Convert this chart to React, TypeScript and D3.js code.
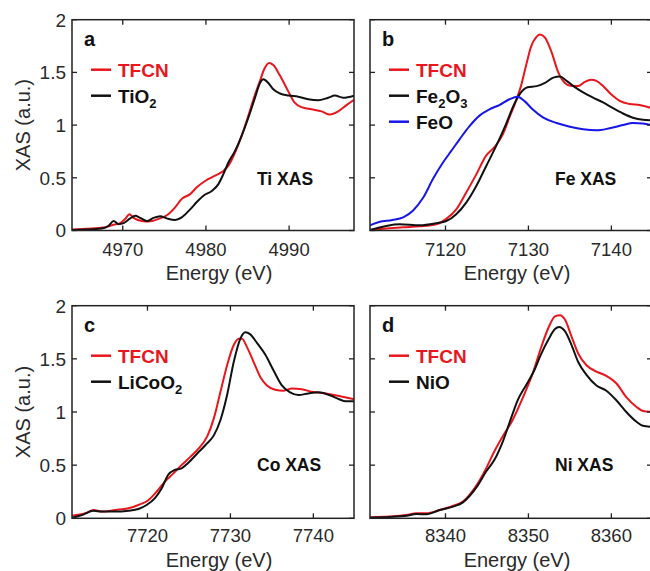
import React from "react";
import * as d3 from "d3";

type Pt = [number, number];

// ---- Data (energy eV, XAS a.u.) ----
const tiTFCN: Pt[] = [[4963.9,0.01],[4967.9,0.03],[4968.7,0.05],[4969.7,0.07],[4970.3,0.11],[4970.8,0.155],[4971.3,0.12],[4972.3,0.09],[4973.1,0.085],[4974.3,0.11],[4975.3,0.145],[4976.3,0.22],[4977.1,0.3],[4978.1,0.345],[4978.9,0.41],[4979.9,0.47],[4981.1,0.52],[4982.1,0.565],[4982.7,0.615],[4983.5,0.74],[4984.3,0.9],[4985.1,1.09],[4985.9,1.29],[4986.5,1.42],[4987.0,1.53],[4987.6,1.59],[4988.1,1.57],[4988.9,1.47],[4989.9,1.32],[4990.7,1.21],[4991.5,1.17],[4992.7,1.15],[4993.9,1.13],[4994.9,1.10],[4995.9,1.13],[4996.9,1.19],[4997.8,1.24]];
const tiTiO2: Pt[] = [[4963.9,0.005],[4967.5,0.02],[4968.3,0.045],[4968.9,0.09],[4969.5,0.06],[4970.1,0.07],[4970.9,0.115],[4971.5,0.14],[4972.1,0.12],[4972.9,0.09],[4973.7,0.12],[4974.5,0.135],[4975.3,0.115],[4976.3,0.1],[4977.1,0.125],[4978.1,0.2],[4978.9,0.27],[4979.7,0.33],[4980.7,0.375],[4981.5,0.44],[4982.1,0.535],[4982.7,0.645],[4983.5,0.755],[4984.3,0.9],[4985.1,1.07],[4985.9,1.26],[4986.5,1.4],[4986.9,1.435],[4987.5,1.4],[4988.1,1.34],[4988.9,1.30],[4989.9,1.28],[4991.1,1.27],[4992.3,1.245],[4993.5,1.235],[4994.7,1.26],[4995.5,1.28],[4996.5,1.26],[4997.8,1.28]];

const feTFCN: Pt[] = [[7110.9,0.005],[7114.9,0.03],[7116.9,0.04],[7118.9,0.06],[7120.1,0.11],[7121.3,0.2],[7122.5,0.36],[7123.7,0.53],[7124.9,0.71],[7125.9,0.79],[7126.9,0.91],[7127.7,1.07],[7128.5,1.23],[7129.1,1.37],[7129.7,1.56],[7130.3,1.74],[7131.0,1.84],[7131.4,1.86],[7132.0,1.83],[7132.8,1.69],[7133.6,1.50],[7134.4,1.40],[7135.2,1.37],[7136.0,1.37],[7136.8,1.41],[7137.6,1.43],[7138.2,1.42],[7139.0,1.37],[7140.0,1.29],[7141.0,1.23],[7142.2,1.20],[7143.4,1.19],[7144.9,1.16]];
const feFe2O3: Pt[] = [[7110.9,0.005],[7114.5,0.06],[7116.9,0.05],[7118.9,0.07],[7120.1,0.09],[7121.3,0.155],[7122.5,0.265],[7123.7,0.42],[7124.9,0.61],[7126.1,0.8],[7127.3,1.01],[7128.3,1.2],[7129.1,1.31],[7129.9,1.36],[7131.0,1.37],[7132.0,1.4],[7133.0,1.45],[7133.8,1.46],[7134.6,1.42],[7135.6,1.36],[7136.6,1.31],[7137.8,1.26],[7139.0,1.215],[7140.2,1.16],[7141.4,1.11],[7142.6,1.07],[7143.8,1.05],[7144.9,1.045]];
const feFeO: Pt[] = [[7110.9,0.05],[7112.0,0.08],[7113.6,0.10],[7114.9,0.125],[7116.1,0.19],[7117.3,0.31],[7118.5,0.49],[7119.7,0.645],[7120.7,0.755],[7121.7,0.865],[7122.9,0.99],[7124.1,1.09],[7125.3,1.15],[7126.5,1.19],[7127.7,1.245],[7128.7,1.27],[7129.5,1.23],[7130.5,1.15],[7131.8,1.07],[7133.4,1.02],[7135.0,0.985],[7136.6,0.96],[7138.2,0.95],[7139.8,0.97],[7141.4,1.0],[7142.6,1.02],[7143.8,1.015],[7144.9,1.0]];

const coTFCN: Pt[] = [[7710.9,0.025],[7712.5,0.047],[7713.5,0.078],[7714.5,0.063],[7716.1,0.078],[7717.7,0.094],[7718.9,0.125],[7720.1,0.17],[7721.1,0.25],[7722.1,0.345],[7723.1,0.42],[7724.1,0.5],[7725.2,0.58],[7726.2,0.66],[7727.2,0.77],[7728.0,0.94],[7728.8,1.19],[7729.6,1.44],[7730.4,1.63],[7731.0,1.69],[7731.4,1.69],[7732.0,1.61],[7732.8,1.47],[7733.6,1.33],[7734.4,1.25],[7735.4,1.21],[7736.4,1.20],[7737.4,1.22],[7738.6,1.215],[7739.8,1.19],[7741.5,1.175],[7743.1,1.15],[7744.9,1.12]];
const coLiCoO2: Pt[] = [[7710.9,0.006],[7712.1,0.03],[7713.5,0.07],[7714.5,0.063],[7716.1,0.063],[7717.7,0.072],[7718.9,0.088],[7719.9,0.125],[7720.9,0.19],[7721.7,0.28],[7722.5,0.41],[7723.3,0.455],[7724.1,0.47],[7724.9,0.52],[7726.0,0.61],[7727.0,0.69],[7728.0,0.78],[7728.8,0.925],[7729.6,1.16],[7730.4,1.47],[7731.2,1.69],[7731.8,1.75],[7732.4,1.73],[7733.2,1.65],[7734.2,1.54],[7735.2,1.39],[7736.2,1.25],[7737.2,1.185],[7738.2,1.16],[7739.4,1.175],[7740.6,1.185],[7741.9,1.16],[7743.1,1.12],[7743.9,1.1],[7744.9,1.1]];

const niTFCN: Pt[] = [[8330.9,0.01],[8333.2,0.016],[8335.3,0.03],[8336.5,0.047],[8337.7,0.047],[8339.3,0.078],[8340.9,0.116],[8342.1,0.157],[8342.9,0.22],[8343.9,0.33],[8344.9,0.47],[8345.9,0.63],[8346.9,0.77],[8348.1,0.925],[8349.3,1.13],[8350.5,1.36],[8351.5,1.6],[8352.4,1.79],[8353.2,1.9],[8353.8,1.91],[8354.4,1.87],[8355.2,1.71],[8356.0,1.55],[8357.0,1.44],[8358.2,1.38],[8359.4,1.34],[8360.6,1.27],[8361.8,1.14],[8363.0,1.05],[8363.8,1.01],[8364.9,1.0]];
const niNiO: Pt[] = [[8330.9,0.006],[8333.2,0.013],[8335.3,0.025],[8336.5,0.04],[8337.7,0.038],[8339.3,0.078],[8340.9,0.11],[8342.1,0.15],[8342.9,0.21],[8343.9,0.31],[8344.9,0.44],[8345.9,0.55],[8346.9,0.72],[8347.9,0.94],[8348.7,1.11],[8349.7,1.25],[8350.7,1.39],[8351.5,1.54],[8352.4,1.68],[8353.2,1.78],[8353.7,1.8],[8354.4,1.76],[8355.2,1.63],[8356.0,1.47],[8357.0,1.35],[8358.2,1.25],[8359.4,1.2],[8360.6,1.11],[8361.8,1.0],[8363.0,0.91],[8363.8,0.87],[8364.9,0.86]];

const yTicks = [0, 0.5, 1, 1.5, 2];
const yTickLabels = ["0", "0.5", "1", "1.5", "2"];
const xTicksA = [4970, 4980, 4990];
const xTicksB = [7120, 7130, 7140];
const xTicksC = [7720, 7730, 7740];
const xTicksD = [8340, 8350, 8360];
const domainA: [number, number] = [4963.9, 4997.8];
const domainB: [number, number] = [7110.9, 7144.9];
const domainC: [number, number] = [7710.9, 7744.9];
const domainD: [number, number] = [8330.9, 8364.9];

const RED = "#e8171d";
const BLACK = "#111111";
const BLUE = "#1616e8";

type Series = { data: Pt[]; color: string; label: React.ReactNode };

type PanelProps = {
  id: string;
  x0: number; y0: number; w: number; h: number;
  domain: [number, number];
  xTicks: number[];
  series: Series[];
  letter: string;
  note: string;
  showY: boolean;
  tickOff: number;
  titleOff: number;
};

const FONT = "'Liberation Sans', Arial, Helvetica, sans-serif";

function Panel(p: PanelProps) {
  const x = d3.scaleLinear().domain(p.domain).range([p.x0, p.x0 + p.w]);
  const y = d3.scaleLinear().domain([0, 2]).range([p.y0 + p.h, p.y0]);
  const line = d3.line<Pt>().x(d => x(d[0])).y(d => y(d[1])).curve(d3.curveMonotoneX);
  const tl = 5;
  const bottom = p.y0 + p.h;
  const right = p.x0 + p.w;
  return (
    <g>
      <defs>
        <clipPath id={"clip-" + p.id}>
          <rect x={p.x0} y={p.y0} width={p.w} height={p.h} />
        </clipPath>
      </defs>
      <g clipPath={`url(#clip-${p.id})`}>
        {p.series.map((s, i) => (
          <path key={i} d={line(s.data) || ""} fill="none" stroke={s.color} strokeWidth={2} strokeLinejoin="round" />
        ))}
      </g>
      {p.xTicks.map(t => (
        <g key={"xt" + t}>
          <line x1={x(t)} x2={x(t)} y1={bottom} y2={bottom - tl} stroke="#222" strokeWidth={1.3} />
          <line x1={x(t)} x2={x(t)} y1={p.y0} y2={p.y0 + tl} stroke="#222" strokeWidth={1.3} />
          <text x={x(t)} y={bottom + p.tickOff} textAnchor="middle" fontSize={18.5} fill="#2a2a2a" fontFamily={FONT}>{t}</text>
        </g>
      ))}
      {yTicks.map((t, i) => (
        <g key={"yt" + t}>
          <line x1={p.x0} x2={p.x0 + tl} y1={y(t)} y2={y(t)} stroke="#222" strokeWidth={1.3} />
          <line x1={right} x2={right - tl} y1={y(t)} y2={y(t)} stroke="#222" strokeWidth={1.3} />
          {p.showY && (
            <text x={p.x0 - 6} y={y(t)} dy="0.36em" textAnchor="end" fontSize={19} fill="#2a2a2a" fontFamily={FONT}>{yTickLabels[i]}</text>
          )}
        </g>
      ))}
      <rect x={p.x0} y={p.y0} width={p.w} height={p.h} fill="none" stroke="#222" strokeWidth={1.5} />
      <text x={p.x0 + p.w / 2 + 6} y={bottom + p.titleOff} textAnchor="middle" fontSize={20} fill="#2a2a2a" fontFamily={FONT}>Energy (eV)</text>
      {p.showY && (
        <text transform={`translate(${p.x0 - 42},${p.y0 + p.h / 2}) rotate(-90)`} textAnchor="middle" fontSize={20} fill="#2a2a2a" fontFamily={FONT}>XAS (a.u.)</text>
      )}
      <text x={p.x0 + 12} y={p.y0 + 26} fontSize={20} fontWeight="bold" fill="#111" fontFamily={FONT}>{p.letter}</text>
      {p.series.map((s, i) => {
        const ly = p.y0 + 50 + i * 26;
        return (
          <g key={"lg" + i}>
            <line x1={p.x0 + 19} x2={p.x0 + 39} y1={ly} y2={ly} stroke={s.color} strokeWidth={2.5} />
            <text x={p.x0 + 46} y={ly + 7} fontSize={19} fontWeight="bold" fill={i === 0 ? RED : "#111"} fontFamily={FONT}>{s.label}</text>
          </g>
        );
      })}
      <text x={p.x0 + 185} y={p.y0 + 165} fontSize={17.5} fontWeight="bold" fill="#111" fontFamily={FONT}>{p.note}</text>
    </g>
  );
}

const sub = (s: string) => (
  <tspan fontSize={13} dy={5}>{s}</tspan>
);

export default function App() {
  return (
    <svg width={650} height={571} style={{ position: "absolute", left: 0, top: 0, background: "#fff" }}>
      <rect width={650} height={571} fill="#fff" />
      <Panel id="a" x0={72} y0={19.7} w={282} h={210.8} domain={domainA} xTicks={xTicksA} letter="a" note="Ti XAS" showY={true} tickOff={25.5} titleOff={49.5}
        series={[
          { data: tiTFCN, color: RED, label: "TFCN" },
          { data: tiTiO2, color: BLACK, label: <>TiO{sub("2")}</> },
        ]} />
      <Panel id="b" x0={370} y0={19.7} w={282} h={210.8} domain={domainB} xTicks={xTicksB} letter="b" note="Fe XAS" showY={false} tickOff={25.5} titleOff={49.5}
        series={[
          { data: feTFCN, color: RED, label: "TFCN" },
          { data: feFe2O3, color: BLACK, label: <>Fe{sub("2")}<tspan dy={-5}>O</tspan>{sub("3")}</> },
          { data: feFeO, color: BLUE, label: "FeO" },
        ]} />
      <Panel id="c" x0={72} y0={305.7} w={282} h={212.6} domain={domainC} xTicks={xTicksC} letter="c" note="Co XAS" showY={true} tickOff={23.5} titleOff={49}
        series={[
          { data: coTFCN, color: RED, label: "TFCN" },
          { data: coLiCoO2, color: BLACK, label: <>LiCoO{sub("2")}</> },
        ]} />
      <Panel id="d" x0={370} y0={305.7} w={282} h={212.6} domain={domainD} xTicks={xTicksD} letter="d" note="Ni XAS" showY={false} tickOff={23.5} titleOff={49}
        series={[
          { data: niTFCN, color: RED, label: "TFCN" },
          { data: niNiO, color: BLACK, label: "NiO" },
        ]} />
    </svg>
  );
}
